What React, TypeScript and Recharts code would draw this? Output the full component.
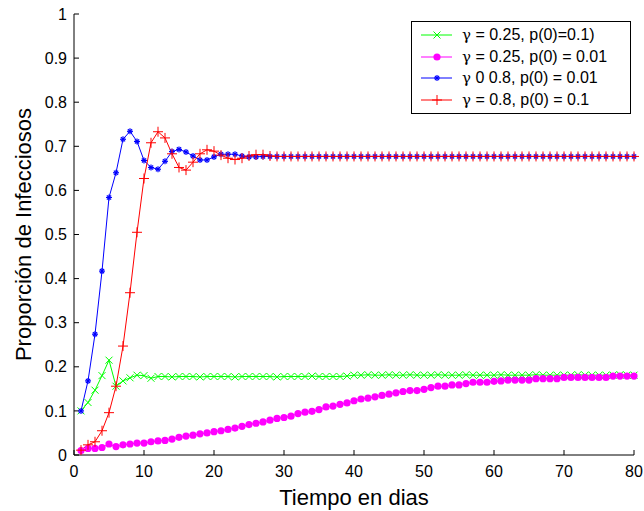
import { LineChart, Line, XAxis, YAxis, Legend } from "recharts";

const days = [
  1, 2, 3, 4, 5, 6, 7, 8, 9, 10,
  11, 12, 13, 14, 15, 16, 17, 18, 19, 20,
  21, 22, 23, 24, 25, 26, 27, 28, 29, 30,
  31, 32, 33, 34, 35, 36, 37, 38, 39, 40,
  41, 42, 43, 44, 45, 46, 47, 48, 49, 50,
  51, 52, 53, 54, 55, 56, 57, 58, 59, 60,
  61, 62, 63, 64, 65, 66, 67, 68, 69, 70,
  71, 72, 73, 74, 75, 76, 77, 78, 79, 80,
];

// gamma = 0.25, p(0) = 0.1
const greenSeries = [
  0.100, 0.119, 0.147, 0.180, 0.215, 0.156, 0.168, 0.175, 0.181, 0.180,
  0.174, 0.178, 0.178, 0.177, 0.178, 0.178, 0.178, 0.177, 0.178, 0.178,
  0.178, 0.178, 0.177, 0.178, 0.178, 0.178, 0.178, 0.178, 0.177, 0.178,
  0.178, 0.178, 0.178, 0.179, 0.178, 0.178, 0.178, 0.178, 0.179, 0.181,
  0.181, 0.182, 0.181, 0.181, 0.182, 0.181, 0.181, 0.182, 0.181, 0.181,
  0.181, 0.182, 0.181, 0.181, 0.181, 0.182, 0.181, 0.181, 0.181, 0.181,
  0.182, 0.181, 0.181, 0.181, 0.181, 0.182, 0.181, 0.181, 0.181, 0.181,
  0.181, 0.182, 0.181, 0.181, 0.181, 0.181, 0.181, 0.182, 0.181, 0.181,
];

// gamma = 0.25, p(0) = 0.01
const magentaSeries = [
  0.010, 0.015, 0.015, 0.017, 0.025, 0.019, 0.023, 0.025, 0.027, 0.027,
  0.030, 0.032, 0.033, 0.036, 0.040, 0.043, 0.045, 0.048, 0.050, 0.053,
  0.055, 0.058, 0.061, 0.065, 0.069, 0.072, 0.075, 0.079, 0.083, 0.085,
  0.088, 0.094, 0.097, 0.099, 0.103, 0.109, 0.111, 0.115, 0.118, 0.123,
  0.127, 0.129, 0.132, 0.135, 0.138, 0.141, 0.144, 0.146, 0.146, 0.149,
  0.153, 0.156, 0.156, 0.159, 0.159, 0.162, 0.165, 0.165, 0.165, 0.167,
  0.168, 0.170, 0.170, 0.170, 0.170, 0.173, 0.173, 0.173, 0.173, 0.176,
  0.176, 0.176, 0.176, 0.176, 0.176, 0.176, 0.179, 0.179, 0.179, 0.179,
];

// gamma = 0.8, p(0) = 0.01
const blueSeries = [
  0.100, 0.168, 0.274, 0.417, 0.584, 0.640, 0.716, 0.734, 0.711, 0.668,
  0.652, 0.648, 0.666, 0.688, 0.693, 0.687, 0.678, 0.669, 0.669, 0.676,
  0.682, 0.682, 0.682, 0.678, 0.676, 0.676, 0.677, 0.677, 0.677, 0.677,
  0.677, 0.677, 0.677, 0.677, 0.677, 0.677, 0.677, 0.677, 0.677, 0.677,
  0.677, 0.677, 0.677, 0.677, 0.677, 0.677, 0.677, 0.677, 0.677, 0.677,
  0.677, 0.677, 0.677, 0.677, 0.677, 0.677, 0.677, 0.677, 0.677, 0.677,
  0.677, 0.677, 0.677, 0.677, 0.677, 0.677, 0.677, 0.677, 0.677, 0.677,
  0.677, 0.677, 0.677, 0.677, 0.677, 0.677, 0.677, 0.677, 0.677, 0.677,
];

// gamma = 0.8, p(0) = 0.1
const redSeries = [
  0.011, 0.023, 0.030, 0.055, 0.096, 0.156, 0.247, 0.368, 0.505, 0.627,
  0.708, 0.733, 0.719, 0.683, 0.652, 0.646, 0.664, 0.683, 0.692, 0.689,
  0.680, 0.673, 0.670, 0.673, 0.678, 0.681, 0.681, 0.678, 0.677, 0.677,
  0.677, 0.677, 0.677, 0.677, 0.677, 0.677, 0.677, 0.677, 0.677, 0.677,
  0.677, 0.677, 0.677, 0.677, 0.677, 0.677, 0.677, 0.677, 0.677, 0.677,
  0.677, 0.677, 0.677, 0.677, 0.677, 0.677, 0.677, 0.677, 0.677, 0.677,
  0.677, 0.677, 0.677, 0.677, 0.677, 0.677, 0.677, 0.677, 0.677, 0.677,
  0.677, 0.677, 0.677, 0.677, 0.677, 0.677, 0.677, 0.677, 0.677, 0.677,
];

const xTicks = [0, 10, 20, 30, 40, 50, 60, 70, 80];
const yTicks = [0, 0.1, 0.2, 0.3, 0.4, 0.5, 0.6, 0.7, 0.8, 0.9, 1];

const legendNames = [
  " = 0.25, p(0)=0.1)",
  " = 0.25, p(0) = 0.01",
  " 0 0.8, p(0) = 0.01",
  " = 0.8, p(0) = 0.1",
];

const data = days.map((d, i) => ({
  t: d,
  g: greenSeries[i],
  m: magentaSeries[i],
  b: blueSeries[i],
  r: redSeries[i],
}));

const FONT = "'Liberation Sans', Arial, sans-serif";

const Cross = ({ cx, cy, color, s = 3.5 }: any) => (
  <g stroke={color} strokeWidth={1}>
    <line x1={cx - s} y1={cy - s} x2={cx + s} y2={cy + s} />
    <line x1={cx - s} y1={cy + s} x2={cx + s} y2={cy - s} />
  </g>
);

const Plus = ({ cx, cy, color, s = 5 }: any) => (
  <g stroke={color} strokeWidth={1}>
    <line x1={cx - s} y1={cy} x2={cx + s} y2={cy} />
    <line x1={cx} y1={cy - s} x2={cx} y2={cy + s} />
  </g>
);

const Star = ({ cx, cy, color, s = 3 }: any) => (
  <g stroke={color} strokeWidth={1.2}>
    <line x1={cx - s} y1={cy} x2={cx + s} y2={cy} />
    <line x1={cx} y1={cy - s} x2={cx} y2={cy + s} />
    <line x1={cx - s * 0.7} y1={cy - s * 0.7} x2={cx + s * 0.7} y2={cy + s * 0.7} />
    <line x1={cx - s * 0.7} y1={cy + s * 0.7} x2={cx + s * 0.7} y2={cy - s * 0.7} />
  </g>
);

const Ball = ({ cx, cy, color, s = 3.6 }: any) => (
  <circle cx={cx} cy={cy} r={s} fill={color} stroke="none" />
);

const markers = [
  { key: "g", color: "#00ff00", Mark: Cross },
  { key: "m", color: "#ff00ff", Mark: Ball },
  { key: "b", color: "#0000ff", Mark: Star },
  { key: "r", color: "#ff0000", Mark: Plus },
];

const renderLegend = () => (
  <div
    style={{
      width: 220,
      height: 93,
      border: "1px solid #000",
      background: "#fff",
      boxSizing: "border-box",
      fontFamily: FONT,
      fontSize: 16,
      paddingTop: 2,
    }}
  >
    {markers.map((m, i) => (
      <div key={m.key} style={{ display: "flex", alignItems: "center", height: 21.8 }}>
        <svg width={48} height={20} style={{ marginLeft: 2 }}>
          <line x1={7} y1={10} x2={38} y2={10} stroke={m.color} strokeWidth={1} />
          <m.Mark cx={23} cy={10} color={m.color} />
        </svg>
        <span style={{ color: "#000", whiteSpace: "nowrap" }}>
          <span style={{ fontFamily: "'DejaVu Serif', serif", fontSize: 15 }}>{"\u03b3"}</span>
          {legendNames[i]}
        </span>
      </div>
    ))}
  </div>
);

const noTick = () => <g />;

export default function App() {
  return (
    <div style={{ position: "relative", width: 644, height: 511, background: "#fff" }}>
      <style>{`body{margin:0;background:#fff}`}</style>
      <LineChart
        width={644}
        height={511}
        data={data}
        margin={{ top: 14, right: 10, left: 0, bottom: 0 }}
        style={{ fontFamily: FONT }}
      >
        <XAxis
          dataKey="t"
          type="number"
          domain={[0, 80]}
          ticks={xTicks}
          height={56}
          tickSize={-5}
          tickMargin={16}
          stroke="#000"
          tick={{ fill: "#000", fontSize: 16 }}
          label={{ value: "Tiempo en dias", position: "insideBottom", offset: 6, fill: "#000", fontSize: 22 }}
        />
        <XAxis
          xAxisId="top"
          orientation="top"
          dataKey="t"
          type="number"
          domain={[0, 80]}
          ticks={xTicks}
          height={0}
          tickSize={-5}
          stroke="#000"
          tick={noTick}
        />
        <YAxis
          type="number"
          domain={[0, 1]}
          ticks={yTicks}
          width={74}
          tickSize={-5}
          tickMargin={12}
          stroke="#000"
          tick={{ fill: "#000", fontSize: 16 }}
          label={{
            value: "Proporción de Infecciosos",
            angle: -90,
            position: "insideLeft",
            offset: 23,
            style: { textAnchor: "middle" },
            fill: "#000",
            fontSize: 22,
          }}
        />
        <YAxis
          yAxisId="right"
          orientation="right"
          type="number"
          domain={[0, 1]}
          ticks={yTicks}
          width={0}
          tickSize={-5}
          stroke="#000"
          tick={noTick}
        />
        <Legend
          layout="vertical"
          align="center"
          verticalAlign="middle"
          content={renderLegend}
          wrapperStyle={{ left: 411, top: 21, width: 220 }}
        />
        {markers.map((m) => (
          <Line
            key={m.key}
            dataKey={m.key}
            type="linear"
            stroke={m.color}
            strokeWidth={1}
            isAnimationActive={false}
            dot={(p: any) => <m.Mark key={`${m.key}-${p.index}`} cx={p.cx} cy={p.cy} color={m.color} />}
            activeDot={false}
          />
        ))}
      </LineChart>
    </div>
  );
}
